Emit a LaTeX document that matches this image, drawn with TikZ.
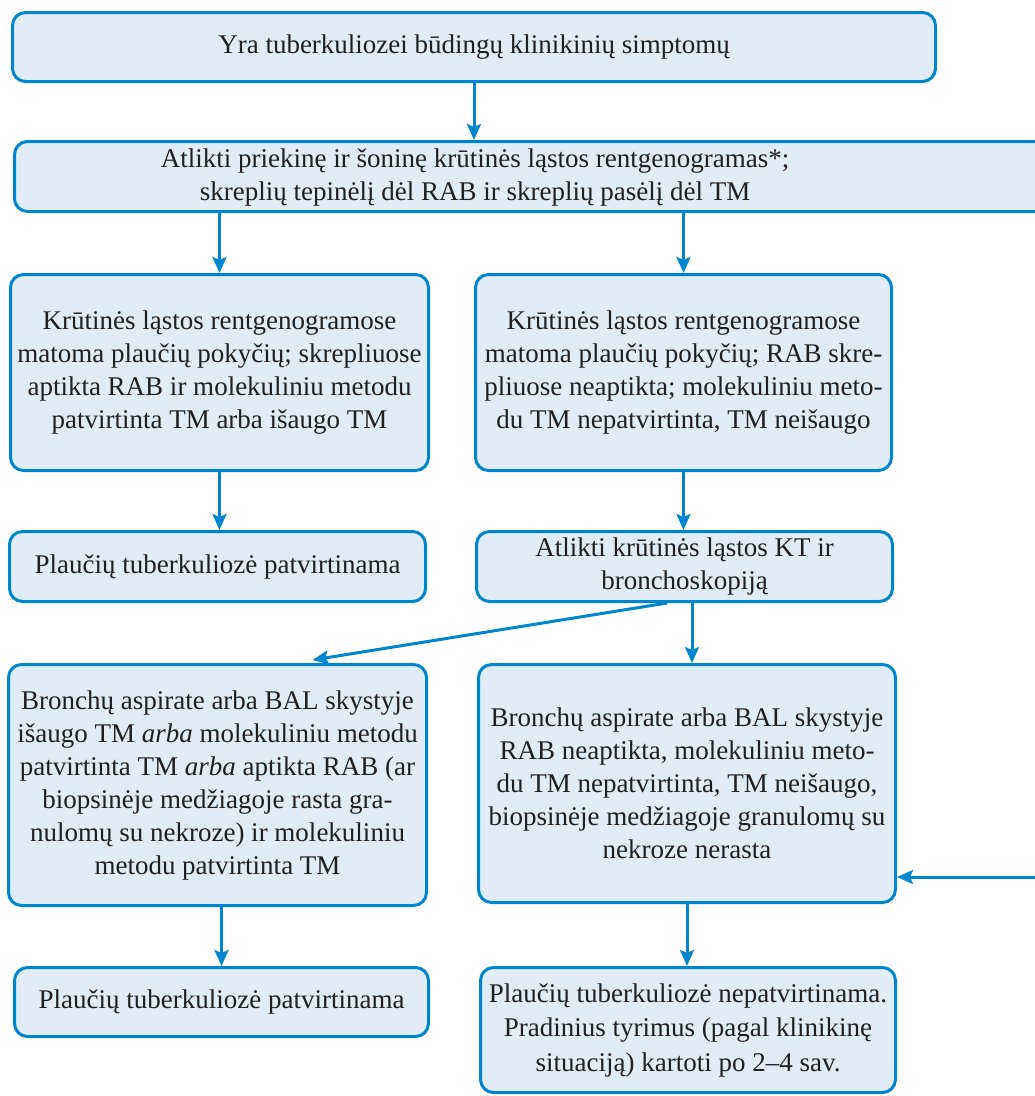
\documentclass[tikz,border=0pt]{standalone}
\usepackage{fontspec}
\setmainfont{Liberation Serif}
\usetikzlibrary{arrows.meta,calc}
\definecolor{bline}{RGB}{0,134,206}
\definecolor{bfill}{RGB}{224,236,248}
\definecolor{ink}{RGB}{35,31,32}
\begin{document}
\begin{tikzpicture}[x=1pt,y=-1pt,
  box/.style={draw=bline, fill=bfill, line width=3pt, rounded corners=13pt, align=center, text=ink, font=\fontsize{27}{33}\selectfont, inner sep=0pt},
  txt/.style={align=center, text=ink, font=\fontsize{27}{33}\selectfont, inner sep=0pt},
  arr/.style={draw=bline, line width=3pt, -{Stealth[length=16pt,width=14pt,inset=3pt]}}]
\useasboundingbox (0,0) rectangle (1035,1096);
\clip (0,0) rectangle (1035,1096);

\node[box, minimum width=923pt, minimum height=69pt] (b1) at (474,47) {Yra tuberkuliozei būdingų klinikinių simptomų};
\node[box, minimum width=1044pt, minimum height=70pt] (b2) at (536.5,176.5) {};
\node[txt] (b2t) at (475,177.5) {Atlikti priekinę ir šoninę krūtinės ląstos rentgenogramas*;\\ skreplių tepinėlį dėl RAB ir skreplių pasėlį dėl TM};

\node[box, minimum width=418pt, minimum height=196pt] (b3) at (219.5,372.5) {Krūtinės ląstos rentgenogramose\\ matoma plaučių pokyčių; skrepliuose\\ aptikta RAB ir molekuliniu metodu\\ patvirtinta TM arba išaugo TM};
\node[box, minimum width=416pt, minimum height=196pt] (b4) at (683.5,372.5) {Krūtinės ląstos rentgenogramose\\ matoma plaučių pokyčių; RAB skre-\\ pliuose neaptikta; molekuliniu meto-\\ du TM nepatvirtinta, TM neišaugo};

\node[box, minimum width=416pt, minimum height=70pt] (b5) at (217.5,566.5) {Plaučių tuberkuliozė patvirtinama};
\node[box, minimum width=416pt, minimum height=70pt] (b6) at (684.5,566.5) {Atlikti krūtinės ląstos KT ir\\ bronchoskopiją};

\node[box, minimum width=418pt, minimum height=241pt] (b7) at (217.5,785) {Bronchų aspirate arba BAL skystyje\\ išaugo TM \textit{arba} molekuliniu metodu\\ patvirtinta TM \textit{arba} aptikta RAB (ar\\ biopsinėje medžiagoje rasta gra-\\ nulomų su nekroze) ir molekuliniu\\ metodu patvirtinta TM};
\node[box, minimum width=417pt, minimum height=238pt] (b8) at (687,783.5) {Bronchų aspirate arba BAL skystyje\\ RAB neaptikta, molekuliniu meto-\\ du TM nepatvirtinta, TM neišaugo,\\ biopsinėje medžiagoje granulomų su\\ nekroze nerasta};

\node[box, minimum width=414pt, minimum height=69pt] (b9) at (221.5,1002) {Plaučių tuberkuliozė patvirtinama};
\node[box, minimum width=415pt, minimum height=125pt, font=\fontsize{27}{34.5}\selectfont] (b10) at (688,1030) {Plaučių tuberkuliozė nepatvirtinama.\\ Pradinius tyrimus (pagal klinikinę\\ situaciją) kartoti po 2–4 sav.};

\draw[arr] (b1.south) -- (b1.south |- b2.north);
\draw[arr] (b3.north |- b2.south) -- (b3.north);
\draw[arr] (b4.north |- b2.south) -- (b4.north);
\draw[arr] (b3.south) -- (b3.south |- b5.north);
\draw[arr] (b4.south) -- (b4.south |- b6.north);
\draw[arr] ([xshift=-17.5pt]b6.south) -- ([xshift=95pt,yshift=3pt]b7.north);
\draw[arr] ([xshift=5pt]b8.north |- b6.south) -- ([xshift=5pt]b8.north);
\draw[arr] (b9.north |- b7.south) -- (b9.north);
\draw[arr] (b8.south) -- (b8.south |- b10.north);
\coordinate (ret) at (1045,877);
\draw[arr] (ret) -- (ret -| b8.east);
\end{tikzpicture}
\end{document}
